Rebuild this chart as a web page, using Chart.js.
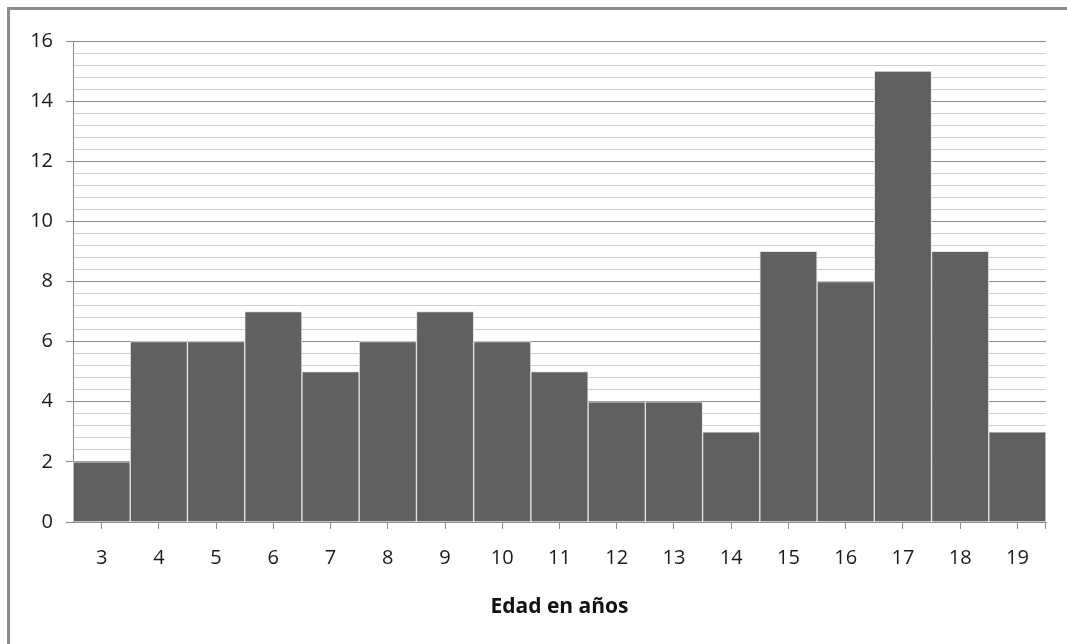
<!DOCTYPE html>
<html>
<head>
<meta charset="utf-8">
<script src="https://cdn.jsdelivr.net/npm/chart.js@4.4.1/dist/chart.umd.min.js"></script>
<style>
  html, body { margin: 0; padding: 0; background: #fff; overflow: hidden; }
  #wrap { position: relative; width: 1067px; height: 644px; overflow: hidden; }
  #frame {
    position: absolute; left: 7px; top: 7px; width: 1200px; height: 800px;
    border-left: 3px solid #8c8c8c; border-top: 3px solid #8c8c8c; pointer-events: none;
  }
  canvas { position: absolute; left: 0; top: 0; }
</style>
</head>
<body>
<div id="wrap">
  <canvas id="c" width="1067" height="644"></canvas>
  <div id="frame"></div>
</div>
<script>
// Age groups (years) and number of people in each
const ages = ['3','4','5','6','7','8','9','10','11','12','13','14','15','16','17','18','19'];
const counts = [2, 6, 6, 7, 5, 6, 7, 6, 5, 4, 4, 3, 9, 8, 15, 9, 3];
const xTitle = 'Edad en años';
const yMin = 0, yMax = 16, yMajorStep = 2, yMinorStep = 0.4;

const axisGray = '#8c8c8c';
const isMajor = v => Math.abs(v / yMajorStep - Math.round(v / yMajorStep)) < 1e-6;

// Closing tick mark at the right end of the category axis
const axisEndTick = {
  id: 'axisEndTick',
  afterDraw(chart) {
    const x = chart.scales.x;
    const ctx = chart.ctx;
    const px = Math.round(x.right) - 0.5;
    ctx.save();
    ctx.strokeStyle = axisGray;
    ctx.lineWidth = 1;
    ctx.beginPath();
    ctx.moveTo(px, x.top);
    ctx.lineTo(px, x.top + x.options.grid.tickLength);
    ctx.stroke();
    ctx.restore();
  }
};

new Chart(document.getElementById('c'), {
  type: 'bar',
  data: {
    labels: ages,
    datasets: [{
      data: counts,
      backgroundColor: '#606060',
      borderColor: '#e4e4e4',
      borderWidth: 1,
      categoryPercentage: 1,
      barPercentage: 1
    }]
  },
  plugins: [axisEndTick],
  options: {
    responsive: false,
    animation: false,
    devicePixelRatio: 1,
    layout: { padding: { left: 0, top: 41, right: 21, bottom: 0 } },
    plugins: { legend: { display: false }, tooltip: { enabled: false } },
    scales: {
      x: {
        afterFit: s => { s.height = 122; },
        grid: { display: true, drawOnChartArea: false, offset: false, tickLength: 7, color: axisGray, tickColor: axisGray },
        border: { color: axisGray, width: 1 },
        ticks: { color: '#1a1a1a', padding: 17, font: { family: 'Open Sans', size: 20 } },
        title: {
          display: true, text: xTitle, color: '#111',
          font: { family: 'Open Sans', size: 21, weight: 'bold' },
          padding: { top: 0, bottom: 24 }
        }
      },
      y: {
        min: yMin, max: yMax,
        afterFit: s => { s.width = 73; },
        grid: {
          color: ctx => isMajor(ctx.tick.value) ? axisGray : '#cdcdcd',
          tickColor: ctx => isMajor(ctx.tick.value) ? axisGray : 'rgba(0,0,0,0)',
          tickLength: 7, lineWidth: 1
        },
        border: { color: axisGray, width: 1 },
        ticks: {
          stepSize: yMinorStep, maxTicksLimit: 100, autoSkip: false,
          color: '#1a1a1a', padding: 13, font: { family: 'Open Sans', size: 20 },
          callback: v => isMajor(v) ? String(Math.round(v)) : ''
        }
      }
    }
  }
});
</script>
</body>
</html>
